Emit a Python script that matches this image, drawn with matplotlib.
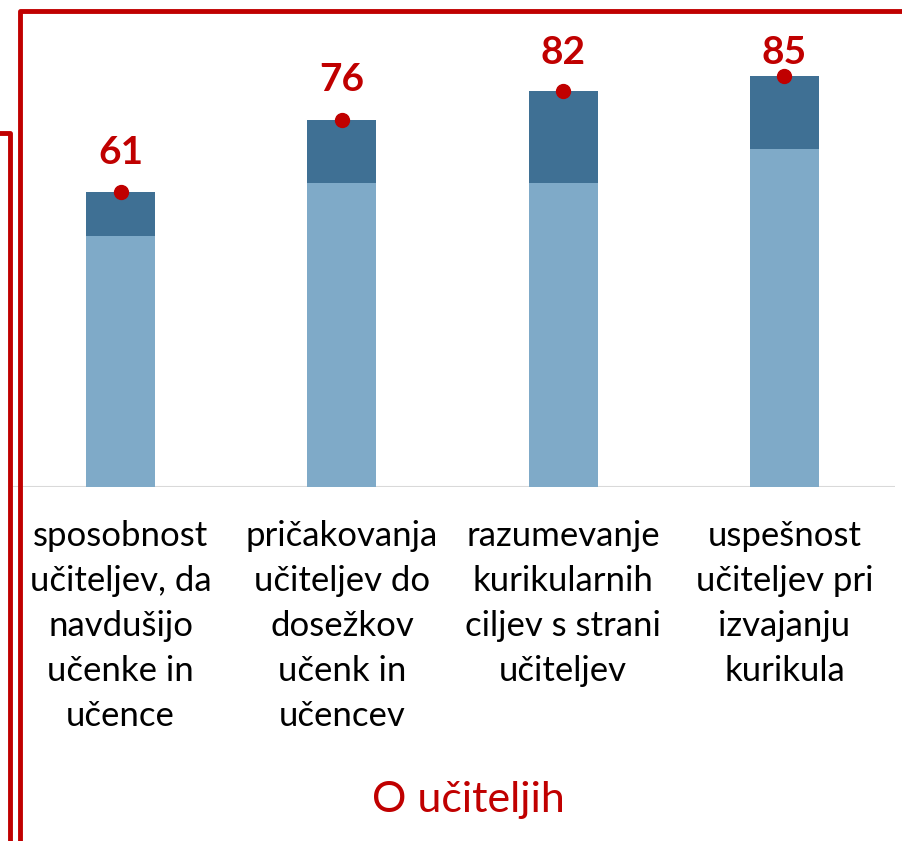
import matplotlib.pyplot as plt
from matplotlib.lines import Line2D
import numpy as np

categories = ['sposobnost\nučiteljev, da\nnavdušijo\nučenke in\nučence',
              'pričakovanja\nučiteljev do\ndosežkov\nučenk in\nučencev',
              'razumevanje\nkurikularnih\nciljev s strani\nučiteljev',
              'uspešnost\nučiteljev pri\nizvajanju\nkurikula']
base = [52, 63, 63, 70]
top_part = [9, 13, 19, 15]
totals = [61, 76, 82, 85]
group_title = 'O učiteljih'

RED = '#C00000'
LIGHT = '#7FAAC8'
DARK = '#3F7094'

plt.rcParams['font.family'] = ['Lato', 'DejaVu Sans']

W, H = 902, 841
fig = plt.figure(figsize=(W / 100, H / 100), dpi=100)

# axes in pixel coordinates: left 10, right 895, baseline at y=487
ax = fig.add_axes([10 / W, (H - 487) / H, 885 / W, 483 / H])
x = np.arange(len(categories))
ax.bar(x, base, width=69 / 221.25, color=LIGHT, zorder=2)
ax.bar(x, top_part, bottom=base, width=69 / 221.25, color=DARK, zorder=2)
ax.plot(x, totals, 'o', color=RED, markersize=10, zorder=3, clip_on=False)
for xi, v in zip(x, totals):
    ax.text(xi, min(v + 8.3, 90), str(v), ha='center', va='center',
            color=RED, fontsize=28, fontweight='bold')
ax.set_xlim(-0.5, 3.5)
ax.set_ylim(0, 100)
ax.axis('off')
ax.axhline(0, color='#D9D9D9', lw=1.5, zorder=1)

for xi, lab in zip(x, categories):
    ax.annotate(lab, (xi, 0), xytext=(0, -24), textcoords='offset points',
                ha='center', va='top', fontsize=25, linespacing=1.5,
                annotation_clip=False)

fig.text(468 / W, 1 - 800 / H, group_title, ha='center', va='center',
         color=RED, fontsize=31)

# red frame lines
def px_line(xs, ys):
    fig.add_artist(Line2D([v / W for v in xs], [1 - v / H for v in ys],
                          color=RED, lw=3.5, solid_capstyle='projecting'))

px_line([0, 9.5, 9.5], [133, 133, 841])
px_line([902, 20, 20], [10.5, 10.5, 841])

fig.savefig('out.png', dpi=100, facecolor='white')
